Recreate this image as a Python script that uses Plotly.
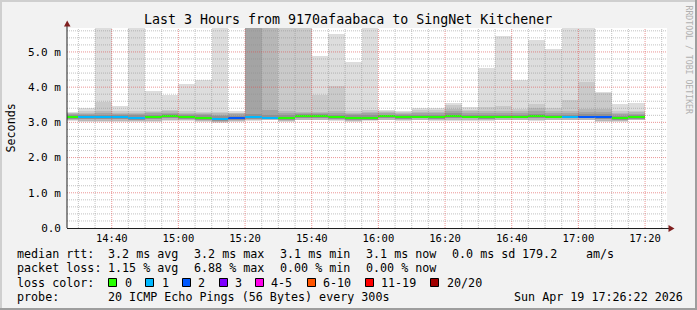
import plotly.graph_objects as go
import pandas as pd

# ---------------- data ----------------
bar_end_times = ["14:30", "14:35", "14:40", "14:45", "14:50", "14:55", "15:00", "15:05", "15:10",
                 "15:15", "15:20", "15:25", "15:30", "15:35", "15:40", "15:45", "15:50", "15:55",
                 "16:00", "16:05", "16:10", "16:15", "16:20", "16:25", "16:30", "16:35", "16:40",
                 "16:45", "16:50", "16:55", "17:00", "17:05", "17:10", "17:15", "17:20"]

median_ms = [3.15, 3.15, 3.15, 3.15, 3.11, 3.15, 3.19, 3.15, 3.12, 3.09, 3.13, 3.15, 3.11, 3.12,
             3.17, 3.17, 3.14, 3.12, 3.12, 3.17, 3.15, 3.15, 3.15, 3.19, 3.16, 3.15, 3.15, 3.15,
             3.17, 3.15, 3.15, 3.15, 3.14, 3.11, 3.14]
lost_pings = [0, 1, 1, 1, 1, 0, 0, 0, 0, 1, 2, 1, 1, 0, 0, 0, 0, 0, 0, 0, 0, 0, 0, 0, 0, 0, 0, 0,
              0, 0, 1, 2, 2, 0, 0]
ping_min = [3.04, 3.02, 3.02, 3.02, 3.01, 3.02, 3.04, 3.04, 3.01, 2.97, 3.01, 3.04, 3.07, 3.02,
            3.07, 3.07, 3.04, 3.02, 3.04, 3.07, 3.04, 3.07, 3.05, 3.04, 3.04, 3.04, 3.07, 3.07,
            3.04, 3.07, 3.07, 3.07, 3.02, 3.02, 3.07]
ping_low = [3.06, 3.04, 3.04, 3.04, 3.03, 3.04, 3.06, 3.06, 3.03, 3.00, 3.03, 3.06, 3.08, 3.04,
            3.08, 3.08, 3.06, 3.04, 3.06, 3.08, 3.06, 3.08, 3.07, 3.06, 3.06, 3.06, 3.08, 3.08,
            3.06, 3.08, 3.08, 3.08, 3.04, 3.04, 3.08]
ping_q1 = [3.10, 3.10, 3.10, 3.10, 3.07, 3.10, 3.12, 3.10, 3.08, 3.04, 3.07, 3.10, 3.09, 3.08,
           3.12, 3.12, 3.10, 3.08, 3.08, 3.12, 3.10, 3.11, 3.10, 3.12, 3.11, 3.10, 3.11, 3.11,
           3.12, 3.11, 3.11, 3.11, 3.09, 3.07, 3.10]
ping_q3 = [3.21, 3.21, 3.22, 3.21, 3.20, 3.21, 3.24, 3.21, 3.20, 3.17, 3.19, 3.24, 3.22, 3.21,
           3.23, 3.23, 3.22, 3.20, 3.21, 3.22, 3.20, 3.21, 3.21, 3.26, 3.22, 3.22, 3.22, 3.21,
           3.25, 3.22, 3.22, 3.23, 3.23, 3.19, 3.20]
ping_hi = [3.24, 3.25, 3.27, 3.25, 3.25, 3.26, 3.28, 3.25, 3.24, 3.22, 3.23, 5.90, 3.36, 3.27,
           3.27, 3.26, 3.27, 3.25, 3.26, 3.26, 3.24, 3.26, 3.26, 3.32, 3.27, 3.28, 3.28, 3.26,
           3.32, 3.27, 3.27, 3.30, 3.30, 3.24, 3.25]
ping_3rd = [3.26, 3.28, 3.31, 3.28, 3.28, 3.29, 3.31, 3.28, 3.27, 3.26, 3.26, 6.10, 5.90, 3.32,
            3.30, 3.30, 3.32, 3.28, 3.30, 3.29, 3.27, 3.30, 3.30, 3.38, 3.31, 3.33, 3.33, 3.31,
            3.40, 3.32, 3.33, 3.38, 3.38, 3.28, 3.29]
ping_2nd = [3.28, 3.31, 3.58, 3.31, 3.31, 3.32, 3.34, 3.31, 3.30, 3.30, 3.28, 6.30, 6.20, 6.00,
            5.90, 3.77, 4.02, 3.32, 3.35, 3.31, 3.29, 3.34, 3.35, 3.48, 3.35, 3.45, 3.47, 3.38,
            3.52, 3.41, 3.63, 4.15, 3.84, 3.32, 3.33]
ping_max = [3.30, 3.41, 6.40, 3.46, 6.20, 3.90, 3.78, 4.09, 4.20, 6.10, 3.32, 6.60, 6.50, 6.40,
            6.30, 4.88, 5.51, 4.71, 6.30, 3.35, 3.32, 3.41, 3.41, 3.56, 3.44, 4.55, 5.44, 4.20,
            5.33, 5.08, 6.40, 6.50, 3.86, 3.52, 3.56]

loss_labels = ["0", "1", "2", "3", "4-5", "6-10", "11-19", "20/20"]
loss_colors = ["#26ff00", "#00b8ff", "#0059ff", "#7e00ff", "#ff00ea", "#ff5500", "#ff0000", "#a10000"]

y_tick_vals = [0, 1, 2, 3, 4, 5]
y_tick_text = ["0.0", "1.0 m", "2.0 m", "3.0 m", "4.0 m", "5.0 m"]

title_text = "Last 3 Hours from 9170afaabaca to SingNet Kitchener"
stats_rtt = ["3.2 ms avg", "3.2 ms max", "3.1 ms min", "3.1 ms now", "0.0 ms sd", "179.2", "am/s"]
stats_loss = ["1.15 % avg", "6.88 % max", "0.00 % min", "0.00 % now"]
probe_text = "20 ICMP Echo Pings (56 Bytes) every 300s"
stamp_text = "Sun Apr 19 17:26:22 2026"

# ---------------- layout geometry ----------------
W, H = 697, 310
L, R, T, B = 67, 30, 28, 82
PW, PH = W - L - R, H - T - B
X_START = pd.Timestamp("2026-04-19 14:26:35")
X_END = pd.Timestamp("2026-04-19 17:26:35")
Y_MAX = 5.68
MONO = "DejaVu Sans Mono"


def px(x):
    return (x - L) / PW


def py(y):
    return (H - B - y) / PH


ends = pd.to_datetime(["2026-04-19 " + t for t in bar_end_times])
centers = ends - pd.Timedelta(minutes=2.5)
bw = 5 * 60 * 1000

fig = go.Figure()


def band(lo, hi, color):
    fig.add_trace(go.Bar(x=centers, y=[h - l for l, h in zip(lo, hi)], base=lo, width=bw,
                         marker=dict(color=color, line=dict(width=0)), hoverinfo="skip",
                         showlegend=False))


band(ping_min, ping_max, "#dddddd")
band(ping_low, ping_2nd, "#cacaca")
band(ping_low, ping_3rd, "#b7b7b7")
band(ping_q1, ping_hi, "#a4a4a4")
band(ping_q1, ping_q3, "#919191")

half = 1.0 * Y_MAX / PH
med_colors = []
for n in lost_pings:
    if n <= 3:
        med_colors.append(loss_colors[n])
    elif n <= 5:
        med_colors.append(loss_colors[4])
    elif n <= 10:
        med_colors.append(loss_colors[5])
    elif n < 20:
        med_colors.append(loss_colors[6])
    else:
        med_colors.append(loss_colors[7])
fig.add_trace(go.Bar(x=centers, y=[2 * half] * len(median_ms), base=[m - half for m in median_ms],
                     width=bw, marker=dict(color=med_colors, line=dict(width=0)),
                     hoverinfo="skip", showlegend=False))

# grid drawn over the smoke (as rrdtool does)
minor_t = pd.date_range("2026-04-19 14:30", "2026-04-19 17:25", freq="5min")
major_t = [t for t in minor_t if t.minute % 20 == 0]
minor_t = [t for t in minor_t if t.minute % 20 != 0]
gx_min, gy_min, gx_maj, gy_maj = [], [], [], []
for t in minor_t:
    gx_min += [t, t, None]
    gy_min += [0, Y_MAX, None]
for t in major_t:
    gx_maj += [t, t, None]
    gy_maj += [0, Y_MAX, None]
for i in range(1, 29):
    v = i * 0.2
    if i % 5 == 0:
        gx_maj += [X_START, X_END, None]
        gy_maj += [v, v, None]
    else:
        gx_min += [X_START, X_END, None]
        gy_min += [v, v, None]
fig.add_trace(go.Scatter(x=gx_min, y=gy_min, mode="lines", hoverinfo="skip", showlegend=False,
                         line=dict(color="rgba(143,143,143,0.55)", width=1, dash="1px,1px")))
fig.add_trace(go.Scatter(x=gx_maj, y=gy_maj, mode="lines", hoverinfo="skip", showlegend=False,
                         line=dict(color="rgba(222,79,79,0.6)", width=1, dash="1px,1px")))

fig.update_xaxes(range=[X_START, X_END], showgrid=False, zeroline=False, showline=False,
                 ticks="", tickformat="%H:%M", dtick=20 * 60 * 1000,
                 tick0="2026-04-19 14:00", ticklabelstandoff=2,
                 tickfont=dict(family=MONO, size=10.5, color="#000"))
fig.update_yaxes(range=[0, Y_MAX], showgrid=False, zeroline=False, showline=False, ticks="",
                 tickvals=y_tick_vals, ticktext=y_tick_text, ticklabelstandoff=5,
                 tickfont=dict(family=MONO, size=11, color="#000"))

shapes = []
# frame around the image
shapes.append(dict(type="rect", xref="paper", yref="paper", x0=px(0), x1=px(W), y0=py(H), y1=py(H - 2),
                   fillcolor="#9e9e9e", line=dict(width=0)))
shapes.append(dict(type="rect", xref="paper", yref="paper", x0=px(W - 2), x1=px(W), y0=py(H), y1=py(0),
                   fillcolor="#9e9e9e", line=dict(width=0)))
shapes.append(dict(type="rect", xref="paper", yref="paper", x0=px(0), x1=px(W - 2), y0=py(2), y1=py(0),
                   fillcolor="#cfcfcf", line=dict(width=0)))
shapes.append(dict(type="rect", xref="paper", yref="paper", x0=px(0), x1=px(2), y0=py(H - 2), y1=py(0),
                   fillcolor="#cfcfcf", line=dict(width=0)))
# axes with arrows
shapes.append(dict(type="line", xref="paper", yref="paper", x0=px(67), x1=px(67), y0=py(228), y1=py(25),
                   line=dict(color="#1f1f1f", width=1)))
shapes.append(dict(type="line", xref="paper", yref="paper", x0=px(67), x1=px(670), y0=py(228.5), y1=py(228.5),
                   line=dict(color="#1f1f1f", width=1)))
shapes.append(dict(type="path", xref="paper", yref="paper",
                   path=f"M {px(64)},{py(26.5)} L {px(70.5)},{py(26.5)} L {px(67.2)},{py(20.5)} Z",
                   fillcolor="#801f1f", line=dict(width=0)))
shapes.append(dict(type="path", xref="paper", yref="paper",
                   path=f"M {px(668.5)},{py(225)} L {px(668.5)},{py(232)} L {px(674.5)},{py(228.5)} Z",
                   fillcolor="#801f1f", line=dict(width=0)))

annotations = []


def text(t, x, y, size=11.7, anchor="left", color="#000", angle=0, family=MONO):
    annotations.append(dict(text=t, x=px(x), y=py(y), xref="paper", yref="paper",
                            xanchor=anchor, yanchor="middle", showarrow=False, textangle=angle,
                            font=dict(family=family, size=size, color=color), borderpad=0))


text(title_text, 348, 19, size=13.3, anchor="center")
text("Seconds", 10.5, 128, size=11.7, anchor="center", angle=-90)
text("RRDTOOL / TOBI OETIKER", 688.5, 60, size=8.2, anchor="center", angle=90, color="#b0b0b0")

LX = 15.5
rows = [254.3, 268.3, 282.6, 296.7]
text("median rtt:", LX, rows[0])
for s, x in zip(stats_rtt, [106.5, 192.5, 278.5, 364.5, 450.5, 520.5, 585]):
    text(s, x, rows[0])
text("packet loss:", LX, rows[1])
for s, x in zip(stats_loss, [106.5, 192.5, 278.5, 364.5]):
    text(s, x, rows[1])
text("loss color:", LX, rows[2])
sq_x = [108.5, 145.5, 182.5, 219.5, 255.5, 307.5, 365.5, 430.5]
lab_x = [123.5, 160.5, 196.5, 234, 270, 321.5, 380, 445.5]
for lab, col, sx, lx in zip(loss_labels, loss_colors, sq_x, lab_x):
    shapes.append(dict(type="rect", xref="paper", yref="paper", x0=px(sx), x1=px(sx + 8),
                       y0=py(286.5), y1=py(278.5), fillcolor=col, line=dict(color="#000", width=1)))
    text(lab, lx, rows[2])
text("probe:", LX, rows[3])
text(probe_text, 106.5, rows[3])
text(stamp_text, 512.5, rows[3])

fig.update_layout(width=W, height=H, margin=dict(l=L, r=R, t=T, b=B, pad=0),
                  paper_bgcolor="#f2f2f2", plot_bgcolor="#ffffff", barmode="overlay", bargap=0,
                  shapes=shapes, annotations=annotations, showlegend=False)

fig.write_html("out.html")
